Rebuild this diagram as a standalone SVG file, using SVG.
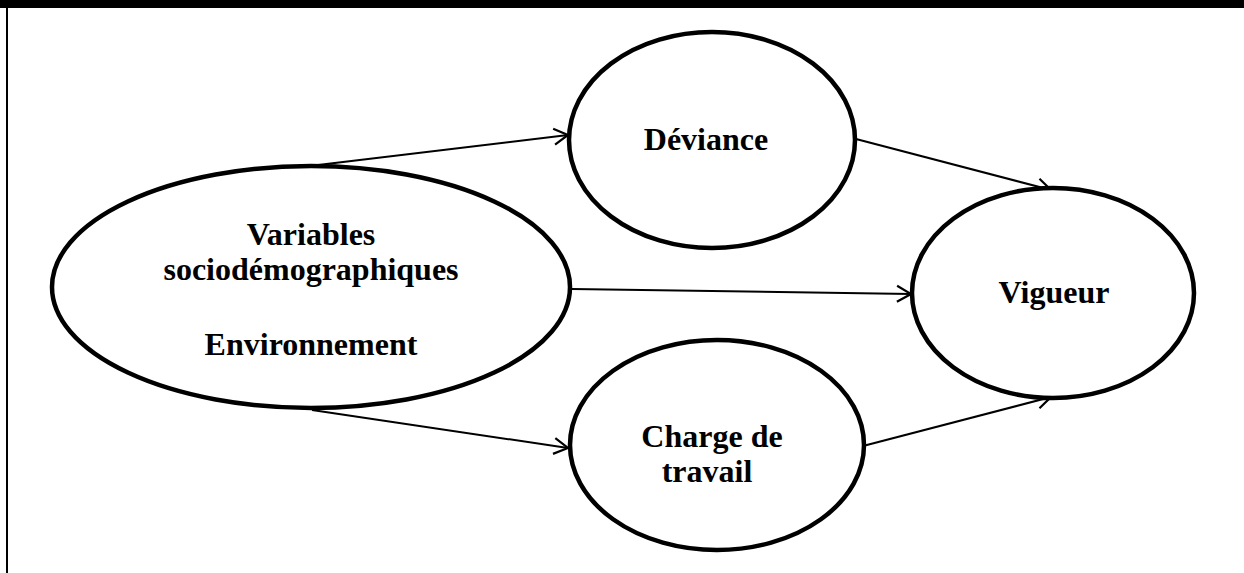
<svg xmlns="http://www.w3.org/2000/svg" width="1244" height="573" viewBox="0 0 1244 573">
<defs>
<marker id="arr" viewBox="0 0 20 20" refX="18" refY="10" markerWidth="20" markerHeight="20" markerUnits="userSpaceOnUse" orient="auto">
<path d="M4,2 L18,10 L4,18" fill="none" stroke="#000" stroke-width="2.2"/>
</marker>
<style>
.node{fill:#fff;stroke:#000;stroke-width:4.5}
.lbl{font-family:"Liberation Serif","Times New Roman",serif;font-weight:bold;font-size:32px;fill:#000;text-anchor:middle}
.edge{stroke:#000;stroke-width:2;fill:none;marker-end:url(#arr)}
</style>
</defs>
<rect x="0" y="0" width="1244" height="573" fill="#fff"/>
<rect x="0" y="0" width="1244" height="8" fill="#000"/>
<line x1="7" y1="0" x2="7" y2="573" stroke="#000" stroke-width="2"/>
<g id="connectors">
<line class="edge" x1="318" y1="165" x2="568" y2="135"/>
<line class="edge" x1="572" y1="289" x2="911" y2="294"/>
<line class="edge" x1="312" y1="410" x2="568" y2="448"/>
<line class="edge" x1="856" y1="139" x2="1051" y2="190"/>
<line class="edge" x1="863" y1="446" x2="1051" y2="397"/>
</g>
<g id="n-socio">
<ellipse class="node" cx="311" cy="287" rx="259" ry="121"/>
<text class="lbl" x="311" y="245">Variables</text>
<text class="lbl" x="311" y="280">sociodémographiques</text>
<text class="lbl" x="311" y="355">Environnement</text>
</g>
<g id="n-deviance">
<ellipse class="node" cx="712" cy="140" rx="143" ry="108"/>
<text class="lbl" x="706" y="150">Déviance</text>
</g>
<g id="n-vigueur">
<ellipse class="node" cx="1053" cy="293" rx="141" ry="105"/>
<text class="lbl" x="1054" y="303">Vigueur</text>
</g>
<g id="n-charge">
<ellipse class="node" cx="717" cy="445" rx="147" ry="105"/>
<text class="lbl" x="712" y="447">Charge de</text>
<text class="lbl" x="707" y="482">travail</text>
</g>
</svg>
